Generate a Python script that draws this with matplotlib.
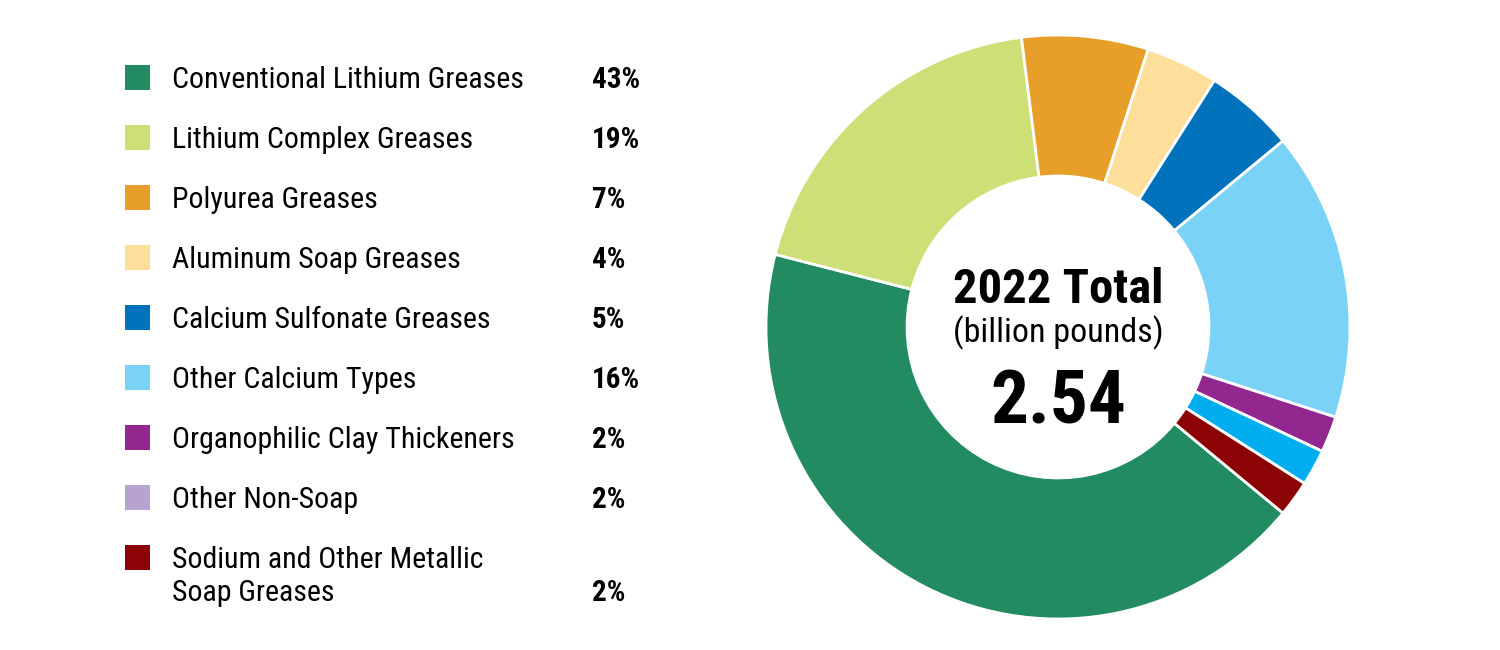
import matplotlib
matplotlib.use("Agg")
import matplotlib.pyplot as plt
from matplotlib.patches import Rectangle

plt.rcParams['font.family'] = ['Roboto Condensed', 'DejaVu Sans']

# grease types, legend order
categories = ["Conventional Lithium Greases", "Lithium Complex Greases", "Polyurea Greases",
              "Aluminum Soap Greases", "Calcium Sulfonate Greases", "Other Calcium Types",
              "Organophilic Clay Thickeners", "Other Non-Soap",
              "Sodium and Other Metallic\nSoap Greases"]
shares = [43, 19, 7, 4, 5, 16, 2, 2, 2]
pct_labels = ["43%", "19%", "7%", "4%", "5%", "16%", "2%", "2%", "2%"]
legend_colors = ["#238B62", "#CDDF77", "#E79F2A", "#FDDF9B", "#0072BC",
                 "#7AD2F7", "#92278F", "#B8A2CF", "#8B0304"]
# the ring uses cyan for "Other Non-Soap"
wedge_colors = ["#238B62", "#CDDF77", "#E79F2A", "#FDDF9B", "#0072BC",
                "#7AD2F7", "#92278F", "#00AEEF", "#8B0304"]

total_title = "2022 Total"
total_unit = "(billion pounds)"
total_value = "2.54"

W, H = 1500, 650
fig = plt.figure(figsize=(15, 6.5), dpi=100)

# donut
cx, cy, r = 1058, 327, 292
ax = fig.add_axes([(cx - r) / W, (H - cy - r) / H, 2 * r / W, 2 * r / H])
ax.pie(shares, colors=wedge_colors, startangle=320.4, counterclock=False, radius=1,
       wedgeprops=dict(width=0.483, edgecolor="white", linewidth=2))
ax.set_xlim(-1, 1)
ax.set_ylim(-1, 1)
ax.set_aspect("equal")
ax.axis("off")

def fy(py):
    return 1 - py / H

fig.text(cx / W, fy(303), total_title, ha="center", va="baseline",
         fontsize=35, fontweight="bold")
fig.text(cx / W, fy(342), total_unit, ha="center", va="baseline", fontsize=24.5)
fig.text(cx / W, fy(423), total_value, ha="center", va="baseline",
         fontsize=54, fontweight="bold")

# legend
for i, (name, pct, col) in enumerate(zip(categories, pct_labels, legend_colors)):
    yc = 77 + 60 * i
    fig.patches.append(Rectangle((125 / W, fy(yc + 12.5)), 25 / W, 25 / H,
                                 transform=fig.transFigure, color=col, lw=0))
    lines = name.split("\n")
    for k, ln in enumerate(lines):
        fig.text(172 / W, fy(yc + 33 * k), ln, ha="left", va="center_baseline", fontsize=21.5)
    fig.text(592 / W, fy(yc + 33 * (len(lines) - 1)), pct, ha="left",
             va="center_baseline", fontsize=21, fontweight="bold")

fig.savefig("out.png", dpi=100, facecolor="white")
